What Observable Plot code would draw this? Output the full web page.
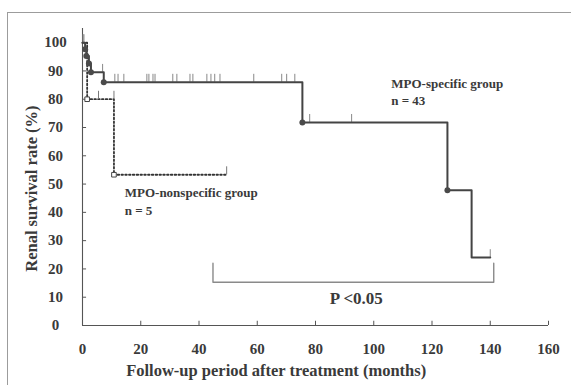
<!DOCTYPE html>
<html><head><meta charset="utf-8">
<script src="https://cdn.jsdelivr.net/npm/d3@7"></script>
<script src="https://cdn.jsdelivr.net/npm/@observablehq/plot@0.6"></script>
<style>
html,body{margin:0;padding:0;background:#fff;}
#wrap{position:relative;width:571px;height:385px;overflow:hidden;}
#wrap svg{position:absolute;left:0;top:0;}
#frame{position:absolute;left:7px;top:12px;width:600px;height:400px;border-top:1.5px solid #9c9c9c;border-left:1.5px solid #9c9c9c;pointer-events:none;}
</style></head><body><div id="wrap"><div id="frame"></div></div>
<script>
// Tick values
const xTicks = [0, 20, 40, 60, 80, 100, 120, 140, 160];
const yTicks = [0, 10, 20, 30, 40, 50, 60, 70, 80, 90, 100];

// MPO-specific group (n = 43): Kaplan-Meier step curve
const specTimes = [0, 0.9, 1.3, 2.2, 2.9, 7.3, 75.5, 125.3, 133.6, 140];
const specSurv  = [100, 97.7, 95.3, 92.6, 89.5, 86, 71.8, 47.8, 24.0, 24.0];
// event markers (filled circles)
const specEventTimes = [0.9, 1.3, 2.2, 2.9, 7.3, 75.5, 125.3];
const specEventSurv  = [97.7, 95.3, 92.6, 89.5, 86, 71.8, 47.8];
// censored observations
const specCensorTimes = [0.2, 0.5, 6.9, 11.1, 12.2, 14.2, 22.1, 22.8, 24.2, 24.9, 31.0, 32.4, 36.9, 37.9, 42.7, 44.1, 45.4, 47.2, 58.8, 68.4, 70.1, 72.9, 78.0, 92.4, 140];
const specCensorSurv  = [100, 100, 89.5, 86, 86, 86, 86, 86, 86, 86, 86, 86, 86, 86, 86, 86, 86, 86, 86, 86, 86, 86, 71.8, 71.8, 24.0];

// MPO-nonspecific group (n = 5)
const nonTimes = [0, 1.6, 10.8, 49.5];
const nonSurv  = [100, 80, 53.3, 53.3];
const nonEventTimes = [1.6, 10.8];
const nonEventSurv  = [80, 53.3];
const nonCensorTimes = [5.5, 10.8, 49.5];
const nonCensorSurv  = [80, 80, 53.3];

// significance bracket
const bracketX = [44.8, 44.8, 141.2, 141.2];
const bracketY = [22, 15.3, 15.3, 22];

// annotations
const labelTexts = ["MPO-specific group", "n = 43", "MPO-nonspecific group", "n = 5"];
const labelX = [106.0, 106.0, 14.5, 14.5];
const labelY = [85.3, 79.3, 46.8, 40.6];
const pText = "P <0.05";
const pX = 94, pY = 9.5;
const xTitle = "Follow-up period after treatment (months)";
const xTitleX = 66.5;
const yTitle = "Renal survival rate (%)";
const yTitleY = 48.4;

const zip = (xs, ys) => xs.map((t, i) => ({t, s: ys[i]}));
const spec = zip(specTimes, specSurv);
const specEv = zip(specEventTimes, specEventSurv);
const specCen = zip(specCensorTimes, specCensorSurv);
const non = zip(nonTimes, nonSurv);
const nonEv = zip(nonEventTimes, nonEventSurv);
const nonCen = zip(nonCensorTimes, nonCensorSurv);
const bracket = zip(bracketX, bracketY);
const labels = labelTexts.map((txt, i) => ({txt, t: labelX[i], s: labelY[i]}));

const ink = "#3a3a3a";
const chart = Plot.plot({
  width: 571, height: 385,
  marginLeft: 82, marginRight: 23, marginTop: 28, marginBottom: 60,
  style: {fontFamily: "'Liberation Serif', 'Times New Roman', serif", fontWeight: "bold", fontSize: "15px", color: ink, background: "transparent"},
  x: {domain: [0, 160]},
  y: {domain: [0, 105]},
  marks: [
    // axes lines and inward ticks
    Plot.ruleY([0], {x1: 0, x2: 160, stroke: "#555", strokeWidth: 1.1}),
    Plot.ruleX([0], {y1: 0, y2: 105, stroke: "#555", strokeWidth: 1.1}),
    Plot.ruleX(xTicks, {x: d => d, y1: 0, y2: 1.5, stroke: "#555"}),
    Plot.ruleY(yTicks, {y: d => d, x1: 0, x2: 1.4, stroke: "#555"}),
    Plot.axisX({ticks: xTicks, tickSize: 0, tickPadding: 18, label: null, tickFormat: d => d}),
    Plot.axisY({ticks: yTicks, tickSize: 0, tickPadding: 27, textAnchor: "middle", label: null, tickFormat: d => d}),
    // bracket
    Plot.line(bracket, {x: "t", y: "s", stroke: "#8a8a8a", strokeWidth: 1.4}),
    // nonspecific group (dotted)
    Plot.line(non, {x: "t", y: "s", curve: "step-after", stroke: "#333", strokeWidth: 1.8, strokeDasharray: "1.6,2.2"}),
    Plot.ruleX(nonCen, {x: "t", y1: "s", y2: d => d.s + 2.8, stroke: "#777", strokeWidth: 1}),
    Plot.dot(nonEv, {x: "t", y: "s", symbol: "square", r: 2.6, fill: "white", stroke: "#444", strokeWidth: 1}),
    // specific group (solid)
    Plot.ruleX(specCen, {x: "t", y1: "s", y2: d => d.s + 2.8, stroke: "#888", strokeWidth: 1}),
    Plot.line(spec, {x: "t", y: "s", curve: "step-after", stroke: "#444", strokeWidth: 2}),
    Plot.dot(specEv, {x: "t", y: "s", r: 3, fill: "#4a4a4a", stroke: "none"}),
    // annotations
    Plot.text(labels, {x: "t", y: "s", text: "txt", textAnchor: "start", fontSize: 13, fill: ink}),
    Plot.text([pText], {x: () => pX, y: () => pY, text: d => d, fontSize: 17, fill: ink}),
    Plot.text([xTitle], {x: () => xTitleX, frameAnchor: "bottom", dy: 45, textAnchor: "middle", lineAnchor: "middle", text: d => d, fontSize: 16.5, fill: ink}),
    Plot.text([yTitle], {y: () => yTitleY, frameAnchor: "left", dx: -51, textAnchor: "middle", lineAnchor: "middle", rotate: -90, text: d => d, fontSize: 16.5, fill: ink})
  ]
});
document.getElementById("wrap").prepend(chart);
</script>
</body></html>
